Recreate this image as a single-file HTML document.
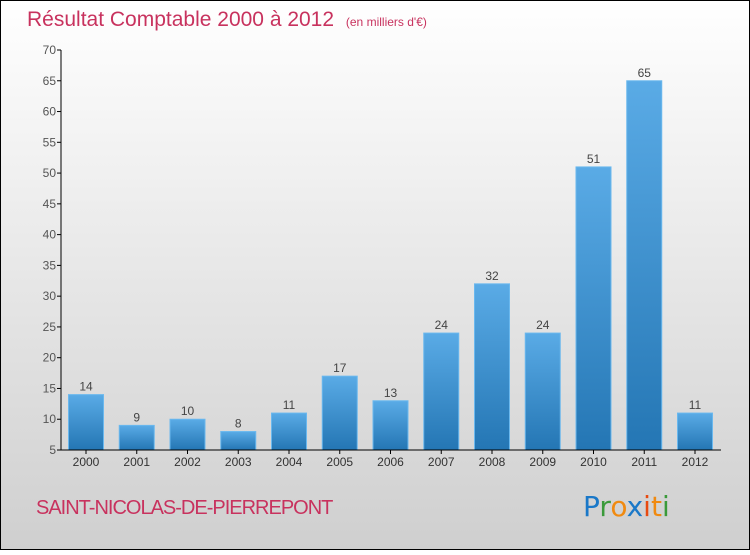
<!DOCTYPE html>
<html><head><meta charset="utf-8"><style>
html,body{margin:0;padding:0}
body{width:750px;height:550px;overflow:hidden;font-family:"Liberation Sans",sans-serif}
</style></head><body>
<svg id="chart" width="750" height="550" xmlns="http://www.w3.org/2000/svg">
<defs>
<linearGradient id="bg" x1="0" y1="0" x2="0" y2="1"><stop offset="0" stop-color="#ffffff"/><stop offset="1" stop-color="#cfcfcf"/></linearGradient>
<linearGradient id="bar" x1="0" y1="0" x2="0" y2="1"><stop offset="0" stop-color="#5aabe6"/><stop offset="1" stop-color="#2476b4"/></linearGradient>
</defs>
<rect x="0.5" y="0.5" width="749" height="549" fill="url(#bg)" stroke="#000"/>
<text x="27" y="26" font-size="21" fill="#c8325e">Résultat Comptable 2000 à 2012 <tspan font-size="12" dx="6">(en milliers d'€)</tspan></text>
<g id="grid"></g>
<g id="bars"></g>
<line x1="61" y1="50" x2="61" y2="450" stroke="#000"/>
<line x1="61" y1="450" x2="721" y2="450" stroke="#000"/>
<text x="36" y="514" font-size="20" fill="#c8325e" letter-spacing="-1">SAINT-NICOLAS-DE-PIERREPONT</text>
<text x="583" y="516" font-size="28" font-family="DejaVu Sans, sans-serif"><tspan fill="#1a78c8">P</tspan><tspan fill="#3a9a3a">r</tspan><tspan fill="#f08a10">o</tspan><tspan fill="#1a78c8">x</tspan><tspan fill="#e84a10">i</tspan><tspan fill="#f08a10">t</tspan><tspan fill="#3a9a3a">i</tspan></text>
</svg>
<script>
const years=["2000","2001","2002","2003","2004","2005","2006","2007","2008","2009","2010","2011","2012"];
const values=[14,9,10,8,11,17,13,24,32,24,51,65,11];
const yTicks=[5,10,15,20,25,30,35,40,45,50,55,60,65,70];
const NS="http://www.w3.org/2000/svg";
const y=v=>450-(v-5)*400/65;
const x=i=>86+i*50.75;
const g=document.getElementById('grid'),b=document.getElementById('bars');
function mk(t,a,p){const e=document.createElementNS(NS,t);for(const k in a)e.setAttribute(k,a[k]);p.appendChild(e);return e;}
yTicks.forEach(v=>{
 const l=mk('line',{x1:57,x2:61,y1:y(v),y2:y(v),stroke:'#000'},g);
 
 
 const t=mk('text',{x:56,y:y(v)+4,'text-anchor':'end','font-size':12,fill:'#555'},g);
 
 
 t.textContent=v;
});
years.forEach((yr,i)=>{
 const r=mk('rect',{x:x(i)-17.5,y:y(values[i]),width:35,height:450-y(values[i]),fill:'url(#bar)',stroke:'#6ab8ee','stroke-width':1},b);
 
 
 const v=mk('text',{x:x(i),y:y(values[i])-4,'text-anchor':'middle','font-size':12,fill:'#444'},b);
 
 
 v.textContent=values[i];
 const tk=mk('line',{x1:x(i),x2:x(i),y1:450,y2:454,stroke:'#000'},b);
 
 
 const t=mk('text',{x:x(i),y:466,'text-anchor':'middle','font-size':12,fill:'#333'},b);
 
 
 t.textContent=yr;
});
</script>
</body></html>
